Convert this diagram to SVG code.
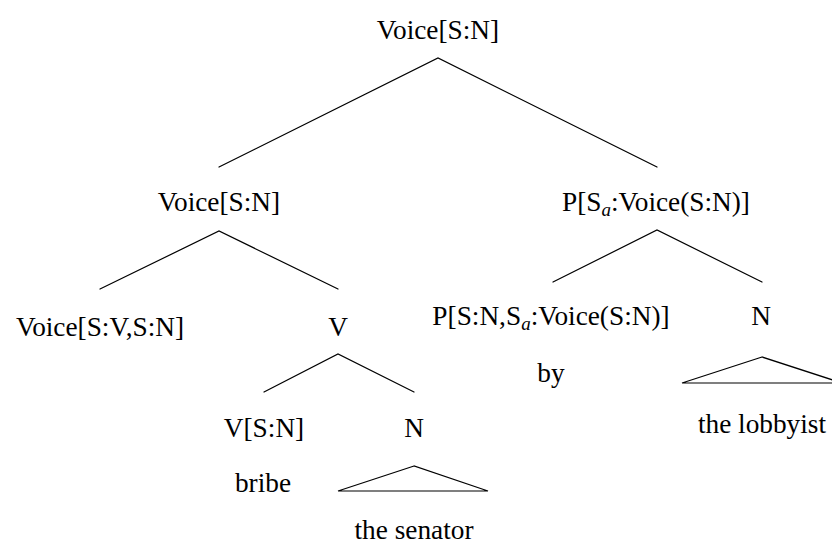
<svg xmlns="http://www.w3.org/2000/svg" width="832" height="547" viewBox="0 0 832 547">
  <style>
    text { font-family: 'Liberation Serif', 'Times New Roman', serif; font-size: 27.3px; fill: #000; text-anchor: middle; }
    .sub { font-size: 19px; font-style: italic; }
    .edge { stroke: #000; stroke-width: 1.2; fill: none; stroke-linecap: round; }
  </style>
  <rect width="832" height="547" fill="#fff"/>

  <!-- tree branches -->
  <g id="connectors">
    <polyline class="edge" points="219,167 438,58 657,167"/>
    <polyline class="edge" points="100,289 219,231 338,289"/>
    <polyline class="edge" points="553,282 657,230 762,282"/>
    <polyline class="edge" points="264,392 338,354 414,392"/>
    <!-- roof triangles over unanalysed phrases -->
    <polygon class="edge" points="414,466 338,491 488,491"/>
    <polygon class="edge" points="762,357 682,383 842,383"/>
  </g>

  <g id="root">
    <text x="438" y="39">Voice[S:N]</text>
  </g>
  <g id="voice-sn">
    <text x="219" y="211">Voice[S:N]</text>
  </g>
  <g id="p-sa">
    <text x="656" y="211">P[S<tspan class="sub" dy="5">a</tspan><tspan dy="-5">:Voice(S:N)]</tspan></text>
  </g>
  <g id="voice-sv-sn">
    <text x="100" y="336">Voice[S:V,S:N]</text>
  </g>
  <g id="v">
    <text x="338" y="336">V</text>
  </g>
  <g id="p-sn-sa">
    <text x="551" y="325">P[S:N,S<tspan class="sub" dy="5">a</tspan><tspan dy="-5">:Voice(S:N)]</tspan></text>
    <text x="551" y="382">by</text>
  </g>
  <g id="n-right">
    <text x="761" y="325">N</text>
    <text x="762" y="433">the lobbyist</text>
  </g>
  <g id="v-sn">
    <text x="264" y="437">V[S:N]</text>
    <text x="263" y="492">bribe</text>
  </g>
  <g id="n-left">
    <text x="414" y="437">N</text>
    <text x="414" y="539">the senator</text>
  </g>
</svg>
